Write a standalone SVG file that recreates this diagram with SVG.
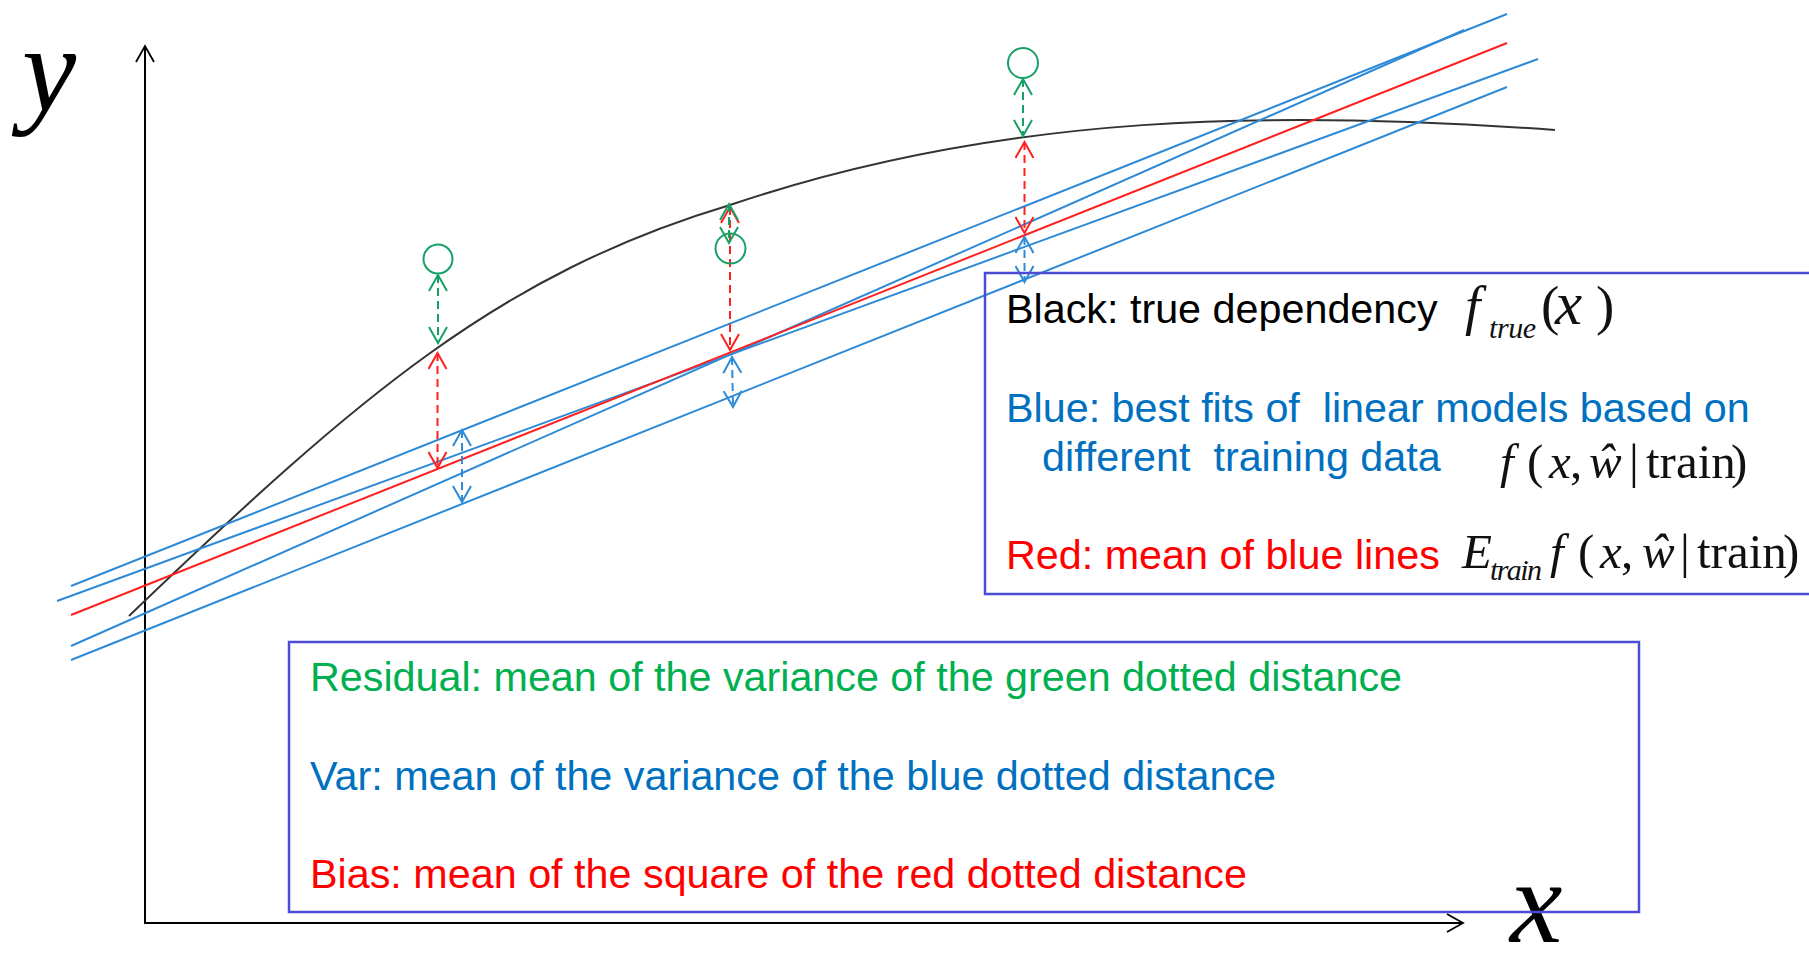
<svg xmlns="http://www.w3.org/2000/svg" width="1809" height="953" viewBox="0 0 1809 953">
<style>
.sans{font-family:"Liberation Sans",Arial,sans-serif;font-size:41.3px;white-space:pre}
.m{font-family:"Liberation Serif","Times New Roman",serif;font-size:49px;fill:#111}
.m1{font-family:"Liberation Serif","Times New Roman",serif;font-size:55px;fill:#111}
.i{font-style:italic}
.sub{font-family:"Liberation Serif","Times New Roman",serif;font-style:italic;font-size:30px;fill:#111}
.blue{stroke:#2E8AD6;stroke-width:2;fill:none}
.dash{stroke-width:2;stroke-dasharray:8 5;fill:none}
.box{fill:none;stroke:#4B4BD6;stroke-width:2.5}
</style>
<defs>
<marker id="mG" viewBox="0 0 20 20" refX="18" refY="10" markerWidth="20" markerHeight="20" markerUnits="userSpaceOnUse" orient="auto-start-reverse"><path d="M2,1 L18,10 L2,19" fill="none" stroke="#17A066" stroke-width="2"/></marker>
<marker id="mR" viewBox="0 0 20 20" refX="18" refY="10" markerWidth="20" markerHeight="20" markerUnits="userSpaceOnUse" orient="auto-start-reverse"><path d="M2,1 L18,10 L2,19" fill="none" stroke="#FF2020" stroke-width="2"/></marker>
<marker id="mB" viewBox="0 0 20 20" refX="18" refY="10" markerWidth="20" markerHeight="20" markerUnits="userSpaceOnUse" orient="auto-start-reverse"><path d="M2,1 L18,10 L2,19" fill="none" stroke="#2E8AD6" stroke-width="2"/></marker>
<marker id="mK" viewBox="0 0 20 20" refX="18" refY="10" markerWidth="20" markerHeight="20" markerUnits="userSpaceOnUse" orient="auto"><path d="M2,1 L18,10 L2,19" fill="none" stroke="#000" stroke-width="1.8"/></marker>
</defs>
<rect width="1809" height="953" fill="#fff"/>

<g id="axes">
<line x1="145" y1="923" x2="145" y2="46" stroke="#000" stroke-width="2" marker-end="url(#mK)"/>
<line x1="144" y1="923" x2="1463" y2="923" stroke="#000" stroke-width="2" marker-end="url(#mK)"/>
<text x="22" y="111" font-family="Liberation Serif,Times New Roman,serif" font-style="italic" font-size="122" fill="#000">y</text>
<text x="1510" y="942" font-family="Liberation Serif,Times New Roman,serif" font-style="italic" font-size="118" fill="#000">x</text>
</g>

<g id="true-curve">
<path d="M129,616 C359,395 500,274 730,205 C1005,112 1280,110 1555,130" fill="none" stroke="#333" stroke-width="2"/>
</g>

<g id="fit-lines">
<line class="blue" x1="71" y1="586" x2="1507" y2="14"/>
<line class="blue" x1="57" y1="601" x2="1538" y2="59"/>
<line class="blue" x1="71" y1="646" x2="1464" y2="30"/>
<line class="blue" x1="71" y1="660" x2="1507" y2="87"/>
<line x1="71" y1="615" x2="1507" y2="43" stroke="#FF2020" stroke-width="2"/>
</g>

<g id="connectors">
<line class="dash" stroke="#FF2020" x1="437.5" y1="353" x2="437.5" y2="468" marker-start="url(#mR)" marker-end="url(#mR)"/>
<line class="dash" stroke="#17A066" x1="438" y1="275" x2="438" y2="343" marker-start="url(#mG)" marker-end="url(#mG)"/>
<line class="dash" stroke="#2E8AD6" x1="462" y1="430" x2="462" y2="502" marker-start="url(#mB)" marker-end="url(#mB)"/>

<line class="dash" stroke="#FF2020" x1="730" y1="207" x2="730" y2="350" marker-start="url(#mR)" marker-end="url(#mR)"/>
<line class="dash" stroke="#17A066" x1="729" y1="204" x2="729" y2="243" marker-start="url(#mG)" marker-end="url(#mG)"/>
<line class="dash" stroke="#2E8AD6" x1="732" y1="357" x2="733" y2="407" marker-start="url(#mB)" marker-end="url(#mB)"/>

<line class="dash" stroke="#17A066" x1="1023" y1="79" x2="1023" y2="136" marker-start="url(#mG)" marker-end="url(#mG)"/>
<line class="dash" stroke="#FF2020" x1="1024.5" y1="142" x2="1024.5" y2="233" marker-start="url(#mR)" marker-end="url(#mR)"/>
<line class="dash" stroke="#2E8AD6" x1="1024.5" y1="237" x2="1024.5" y2="282" marker-start="url(#mB)" marker-end="url(#mB)"/>
</g>

<g id="point-1"><circle cx="438" cy="259" r="14.5" fill="none" stroke="#17A066" stroke-width="2"/></g>
<g id="point-2"><circle cx="730.5" cy="248.5" r="15" fill="none" stroke="#17A066" stroke-width="2"/></g>
<g id="point-3"><circle cx="1023" cy="63" r="15" fill="none" stroke="#17A066" stroke-width="2"/></g>

<g id="legend-top">
<rect class="box" x="985" y="273" width="830" height="321"/>
<text class="sans" x="1006" y="323" fill="#000">Black: true dependency</text>
<text class="m1" y="324"><tspan x="1465" class="i">f</tspan><tspan x="1541">(</tspan><tspan x="1555" class="i" font-size="61">x</tspan><tspan x="1596">)</tspan></text>
<text class="sub" x="1489" y="338" textLength="47">true</text>
<text class="sans" x="1006" y="422" fill="#0070C0">Blue: best fits of  linear models based on</text>
<text class="sans" x="1042" y="471" fill="#0070C0">different  training data</text>
<text class="m" y="478"><tspan x="1500" class="i">f</tspan><tspan x="1527">(</tspan><tspan x="1549" class="i">x</tspan><tspan x="1570">,</tspan><tspan x="1589" class="i">ŵ</tspan><tspan x="1629">|</tspan><tspan x="1646">train</tspan><tspan x="1731">)</tspan></text>
<text class="sans" x="1006" y="569" fill="#FF0000">Red: mean of blue lines</text>
<text class="m" y="568"><tspan x="1462" class="i">E</tspan><tspan x="1550" class="i">f</tspan><tspan x="1578">(</tspan><tspan x="1600" class="i">x</tspan><tspan x="1621">,</tspan><tspan x="1642" class="i">ŵ</tspan><tspan x="1680">|</tspan><tspan x="1697">train</tspan><tspan x="1783">)</tspan></text>
<text class="sub" x="1490" y="580" textLength="52">train</text>
</g>

<g id="legend-bottom">
<rect class="box" x="289" y="642" width="1350" height="270"/>
<text class="sans" x="310" y="691" fill="#00B050" textLength="1092">Residual: mean of the variance of the green dotted distance</text>
<text class="sans" x="310" y="790" fill="#0070C0" textLength="966">Var: mean of the variance of the blue dotted distance</text>
<text class="sans" x="310" y="888" fill="#FF0000" textLength="937">Bias: mean of the square of the red dotted distance</text>
</g>
</svg>
